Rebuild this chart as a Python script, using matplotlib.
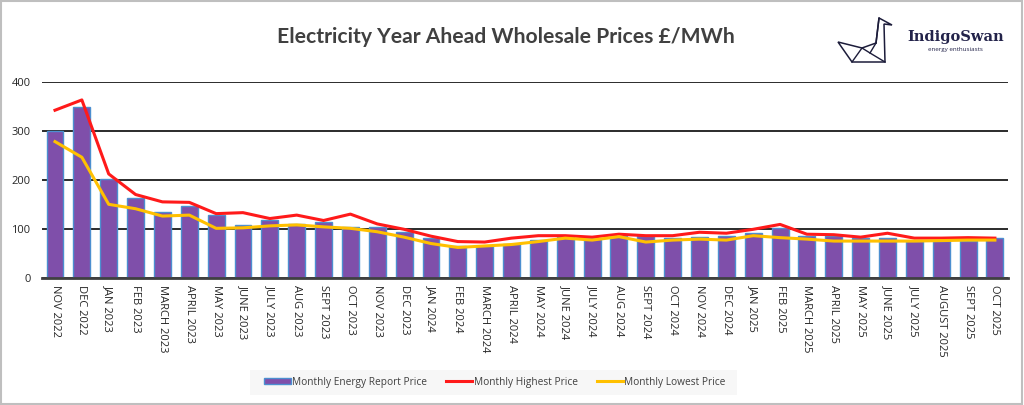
import numpy as np
import matplotlib
matplotlib.use("Agg")
from matplotlib import pyplot as plt
from matplotlib.patches import Rectangle, Patch, Polygon
from matplotlib.lines import Line2D

plt.rcParams['font.family'] = ['Open Sans', 'DejaVu Sans']

# months, Nov 2022 .. Oct 2025
months = ["NOV 2022", "DEC 2022", "JAN 2023", "FEB 2023", "MARCH 2023", "APRIL 2023",
          "MAY 2023", "JUNE 2023", "JULY 2023", "AUG 2023", "SEPT 2023", "OCT 2023",
          "NOV 2023", "DEC 2023", "JAN 2024", "FEB 2024", "MARCH 2024", "APRIL 2024",
          "MAY 2024", "JUNE 2024", "JULY 2024", "AUG 2024", "SEPT 2024", "OCT 2024",
          "NOV 2024", "DEC 2024", "JAN 2025", "FEB 2025", "MARCH 2025", "APRIL 2025",
          "MAY 2025", "JUNE 2025", "JULY 2025", "AUGUST 2025", "SEPT 2025", "OCT 2025"]

report_price = [300, 350, 202, 164, 135, 147, 130, 109, 120, 110, 114, 105,
                105, 95, 82, 65, 65, 71, 78, 85, 83, 86, 86, 82,
                84, 87, 92, 102, 86, 86, 82, 82, 77, 77, 77, 82]

highest_price = [343, 364, 213, 171, 156, 155, 132, 134, 122, 129, 118, 131,
                 111, 100, 86, 75, 74, 82, 87, 87, 84, 90, 87, 87,
                 94, 92, 100, 110, 90, 89, 84, 92, 82, 82, 83, 82]

lowest_price = [279, 247, 151, 142, 127, 129, 102, 103, 107, 109, 105, 102,
                95, 84, 71, 63, 66, 69, 75, 82, 78, 85, 74, 78,
                80, 78, 87, 83, 80, 76, 76, 76, 76, 77, 78, 78]

W, H = 1024, 405
fig = plt.figure(figsize=(W / 100, H / 100), dpi=100)
ax = fig.add_axes([0.0406, 0.3128, 0.9441, 0.484])

x = np.arange(len(months))
ax.bar(x, report_price, width=0.63, color='#7F4FAA', edgecolor='#4C8FD0', linewidth=1.0,
       zorder=3)
ax.plot(x, highest_price, color='#FF1A1A', linewidth=2.2, zorder=4)
ax.plot(x, lowest_price, color='#FFC000', linewidth=2.2, zorder=4)

ax.set_xlim(-0.5, len(months) - 0.5)
ax.set_ylim(0, 400)
ax.set_yticks([0, 100, 200, 300, 400])
ax.yaxis.grid(True, color='#1a1a1a', linewidth=1.3, zorder=0)
ax.set_axisbelow(True)
for s in ['top', 'right', 'left']:
    ax.spines[s].set_visible(False)
ax.spines['bottom'].set_color('#404040')
ax.spines['bottom'].set_linewidth(2)
ax.spines['bottom'].set_zorder(5)
ax.set_xticks(x)
ax.set_xticklabels(months, rotation=-90, fontsize=7.5, color='#1a1a1a', va='top', ha='center')
ax.tick_params(axis='both', length=0, labelsize=8, colors='#262626')
ax.tick_params(axis='x', pad=5)
ax.tick_params(axis='y', pad=8)

fig.text(506 / W, 0.908, "Electricity Year Ahead Wholesale Prices £/MWh", ha='center', va='center',
         fontsize=15.2, fontweight='bold', color='#404040', family=['Lato', 'DejaVu Sans'])

# legend box
fig.patches.append(Rectangle((250 / W, 10 / H), 487 / W, 25 / H, transform=fig.transFigure,
                             facecolor='#F7F7F7', edgecolor='none', zorder=0))
handles = [Patch(facecolor='#7F4FAA', edgecolor='#4C8FD0', linewidth=1.0),
           Line2D([], [], color='#FF1A1A', linewidth=2.2),
           Line2D([], [], color='#FFC000', linewidth=2.2)]
labels = ["Monthly Energy Report Price", "Monthly Highest Price", "Monthly Lowest Price"]
fig.legend(handles, labels, loc='center', bbox_to_anchor=(495 / W, 23 / H), ncol=3,
           frameon=False, fontsize=7.3, handlelength=2.6, handleheight=0.6, columnspacing=1.9,
           handletextpad=0.1, labelcolor='#404040')


# logo: origami swan, pixel coords from top-left
def px(pts):
    return [(a / W, 1 - b / H) for a, b in pts]


swan = '#1c1c3a'
fig.patches.append(Polygon(px([(879, 18), (892, 25), (884, 24), (885, 62), (852, 62),
                               (838, 42), (862, 48), (876, 43)]), closed=True,
                           transform=fig.transFigure, facecolor='none', edgecolor=swan,
                           linewidth=1.1))
fig.add_artist(Line2D(*zip(*px([(876, 43), (879, 18)])), transform=fig.transFigure,
                      color=swan, linewidth=1.1))
fig.add_artist(Line2D(*zip(*px([(852, 62), (862, 48), (870, 53), (885, 62)])),
                      transform=fig.transFigure, color=swan, linewidth=1.0))
fig.add_artist(Line2D(*zip(*px([(876, 43), (870, 53)])), transform=fig.transFigure,
                      color=swan, linewidth=1.0))
fig.text(907 / W, 1 - 37 / H, "IndigoSwan", fontsize=10.5, fontweight='bold',
         color='#23234a', va='center', ha='left', family=['DejaVu Serif'])
fig.text(955 / W, 1 - 50 / H, "energy enthusiasts", fontsize=4.5, color='#23234a',
         va='center', ha='center')

# outer border
fig.patches.append(Rectangle((0.001, 0.002), 0.997, 0.995, transform=fig.transFigure,
                             facecolor='none', edgecolor='#BFBFBF', linewidth=1.5))

fig.savefig("out.png", dpi=100)
